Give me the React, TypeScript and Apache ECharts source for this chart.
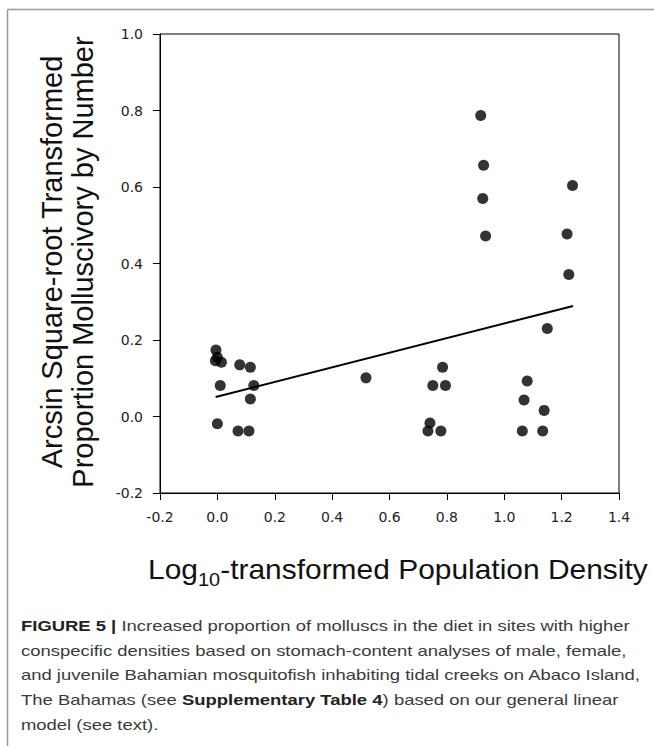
import React, { useEffect, useRef } from "react";
import * as echarts from "echarts";

const pointX = [
  -0.005, 0.0, -0.007, 0.014, 0.01, 0.0,
  0.078, 0.115, 0.127, 0.115, 0.072, 0.11,
  0.518,
  0.751, 0.785, 0.795, 0.741, 0.734, 0.779,
  0.918, 0.928, 0.925, 0.935,
  1.08, 1.069, 1.139, 1.063, 1.134, 1.15,
  1.238, 1.219, 1.225,
];
const pointY = [
  0.174, 0.155, 0.146, 0.142, 0.081, -0.019,
  0.135, 0.129, 0.081, 0.046, -0.038, -0.038,
  0.101,
  0.081, 0.129, 0.081, -0.017, -0.038, -0.038,
  0.787, 0.657, 0.57, 0.472,
  0.093, 0.043, 0.016, -0.038, -0.038, 0.23,
  0.604, 0.477, 0.371,
];
const fitX = [-0.006, 1.24];
const fitY = [0.051, 0.289];

const xTicks = [-0.2, 0.0, 0.2, 0.4, 0.6, 0.8, 1.0, 1.2, 1.4];
const yTicks = [-0.2, 0.0, 0.2, 0.4, 0.6, 0.8, 1.0];

const yTitleLines = ["Arcsin Square-root Transformed", "Proportion Molluscivory by Number"];
const xTitleParts = ["Log", "10", "-transformed Population Density"];
const captionLines = [
  "{b|FIGURE 5 |} Increased proportion of molluscs in the diet in sites with higher",
  "conspecific densities based on stomach-content analyses of male, female,",
  "and juvenile Bahamian mosquitofish inhabiting tidal creeks on Abaco Island,",
  "The Bahamas (see {b|Supplementary Table 4}) based on our general linear",
  "model (see text).",
];

const FONT = "Liberation Sans, Arial, Helvetica, sans-serif";

function measure(text: string, size: number): number {
  const c = document.createElement("canvas").getContext("2d");
  if (!c) return text.length * size * 0.5;
  c.font = `${size}px "Liberation Sans", Arial, sans-serif`;
  return c.measureText(text).width;
}

export default function App() {
  const ref = useRef<HTMLDivElement>(null);
  useEffect(() => {
    if (!ref.current) return;
    const chart = echarts.init(ref.current, undefined, { renderer: "svg" });

    const plotLeft = 160, plotTop = 34, plotW = 459, plotH = 459;
    const titleSize = 27, subSize = 18;
    const w0 = measure(xTitleParts[0], titleSize);
    const w1 = measure(xTitleParts[1], subSize);
    const w2 = measure(xTitleParts[2], titleSize);
    const total = w0 + w1 + w2;
    const xtScale = 500 / total;

    const graphics: any[] = [
      { type: "line", shape: { x1: 7.5, y1: 9.5, x2: 654, y2: 9.5 }, style: { stroke: "#999", lineWidth: 1.5 } },
      { type: "line", shape: { x1: 7.5, y1: 9.5, x2: 7.5, y2: 746 }, style: { stroke: "#999", lineWidth: 1.5 } },
      ...yTitleLines.map((t, i) => ({
        type: "text",
        x: 52 + i * 31,
        y: 262,
        rotation: Math.PI / 2,
        style: { text: t, font: `29px ${FONT}`, fill: "#111", textAlign: "center", textVerticalAlign: "middle" },
      })),
      {
        type: "group",
        x: 398,
        y: 570,
        scaleX: xtScale,
        children: [
          { type: "text", x: -total / 2, y: 0, style: { text: xTitleParts[0], font: `${titleSize}px ${FONT}`, fill: "#111", textAlign: "left", textVerticalAlign: "middle" } },
          { type: "text", x: -total / 2 + w0, y: 10, style: { text: xTitleParts[1], font: `${subSize}px ${FONT}`, fill: "#111", textAlign: "left", textVerticalAlign: "middle" } },
          { type: "text", x: -total / 2 + w0 + w1, y: 0, style: { text: xTitleParts[2], font: `${titleSize}px ${FONT}`, fill: "#111", textAlign: "left", textVerticalAlign: "middle" } },
        ],
      },
      ...captionLines.map((t, i) => ({
        type: "text",
        x: 21,
        y: 626 + i * 24.75,
        scaleX: 1.23,
        style: {
          text: t,
          fontSize: 15,
          fontFamily: FONT,
          fill: "#3a3a3a",
          textAlign: "left",
          textVerticalAlign: "middle",
          rich: { b: { fontSize: 15, fontFamily: FONT, fontWeight: "bold", fill: "#222" } },
        },
      })),
    ];

    const axisCommon = {
      type: "value" as const,
      interval: 0.2,
      axisLine: { show: true, onZero: false, lineStyle: { color: "#000", width: 1 } },
      axisTick: { show: true, inside: false, length: 7, lineStyle: { color: "#000", width: 1 } },
      splitLine: { show: false },
      axisLabel: {
        fontSize: 14,
        fontFamily: "DejaVu Sans, Liberation Sans, sans-serif",
        color: "#222",
        margin: 17,
        formatter: (v: number) => v.toFixed(1),
      },
    };

    chart.setOption({
      animation: false,
      backgroundColor: "#fff",
      grid: { left: plotLeft, top: plotTop, width: plotW, height: plotH, show: true, borderColor: "#000", borderWidth: 1, backgroundColor: "transparent" },
      xAxis: { ...axisCommon, min: xTicks[0], max: xTicks[xTicks.length - 1] },
      yAxis: { ...axisCommon, min: yTicks[0], max: yTicks[yTicks.length - 1] },
      series: [
        {
          type: "line",
          data: fitX.map((x, i) => [x, fitY[i]]),
          showSymbol: false,
          symbol: "none",
          lineStyle: { color: "#000", width: 2 },
          z: 2,
        },
        {
          type: "scatter",
          data: pointX.map((x, i) => [x, pointY[i]]),
          symbol: "circle",
          symbolSize: 11,
          itemStyle: { color: "#000" },
          z: 3,
        },
      ],
      graphic: graphics,
    });
    return () => chart.dispose();
  }, []);
  return <div ref={ref} style={{ position: "absolute", left: 0, top: 0, width: 654, height: 746 }} />;
}
